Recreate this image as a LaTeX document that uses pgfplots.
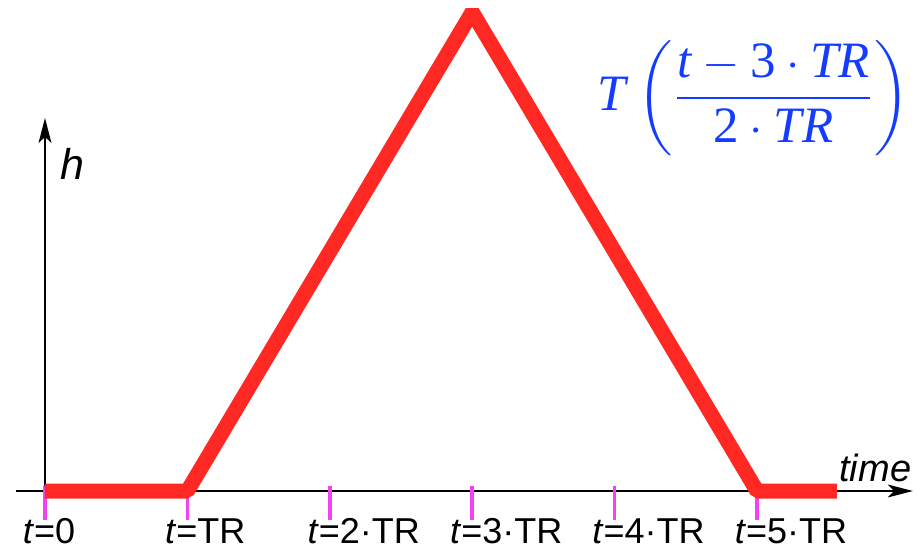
\documentclass[border=0pt]{standalone}
\usepackage{fontspec}
\setmainfont{Liberation Sans}
\newfontfamily\timesf{Liberation Serif}
\usepackage{amsmath}
\usepackage{pgfplots}
\pgfplotsset{compat=1.18}
\usetikzlibrary{arrows.meta}
\definecolor{PulseRed}{RGB}{255,40,35}
\definecolor{TickMag}{RGB}{242,66,242}
\definecolor{FormBlue}{RGB}{20,60,255}

% h(t): trapezoid pulse, x in units of TR, y normalised to peak
\pgfplotstableread{
t    h
0    0
1    0
3    1
5    0
5.56 0
}\pulse

\begin{document}
\begin{tikzpicture}
\begin{axis}[
  scale only axis, width=230.25pt, height=137pt,
  xmin=-0.3160, xmax=6.1517, ymin=-0.1190, ymax=1.0251,
  hide axis, clip=false,
]
\path (rel axis cs:0,0) rectangle (rel axis cs:1,1);
% axes
\draw[line width=0.5pt, -{Stealth[length=6.25pt,width=3.2pt,inset=1.5pt]}]
  (axis cs:-0.204,0) -- (axis cs:6.095,0);
\draw[line width=0.5pt, -{Stealth[length=6.25pt,width=3.2pt,inset=1.5pt]}]
  (axis cs:0,0) -- (axis cs:0,0.779);
% ticks
\foreach \i in {0,...,5}{
  \edef\tmp{\noexpand\draw[TickMag, line width=0.875pt]
    (axis cs:\i,0.0104) -- (axis cs:\i,-0.0605);}\tmp
}
\addplot[PulseRed, line width=3.75pt, line join=bevel, line cap=butt]
  table[x=t, y=h] {\pulse};
% tick labels
\begin{scope}[every node/.style={anchor=base west, inner sep=0pt,
    font=\fontsize{9}{10}\selectfont}]
\node at (axis cs:-0.1615,-0.1086) {\textit{t}=0};
\node at (axis cs:0.8385,-0.1086) {\textit{t}=TR};
\node at (axis cs:1.8385,-0.1086) {\textit{t}=2·TR};
\node at (axis cs:2.8385,-0.1086) {\textit{t}=3·TR};
\node at (axis cs:3.8385,-0.1086) {\textit{t}=4·TR};
\node at (axis cs:4.8385,-0.1086) {\textit{t}=5·TR};
\end{scope}
\node[anchor=base east, inner sep=0pt, font=\fontsize{9.5}{11}\selectfont\itshape]
  at (axis cs:6.0885,0.0198) {time};
\node[anchor=base west, inner sep=0pt, font=\fontsize{10.75}{12}\selectfont\itshape]
  at (axis cs:0.1053,0.6514) {h};
\node[anchor=base west, inner sep=0pt, text=FormBlue,
      font=\fontsize{12.75}{15}\selectfont\timesf]
  at (axis cs:3.8764,0.7954)
  {\textit{T}\hspace{2pt}$\left(\dfrac{\text{\itshape t} - \text{3}\cdot\text{\itshape TR}}{\text{2}\cdot\text{\itshape TR}}\right)$};
\end{axis}
\end{tikzpicture}
\end{document}
